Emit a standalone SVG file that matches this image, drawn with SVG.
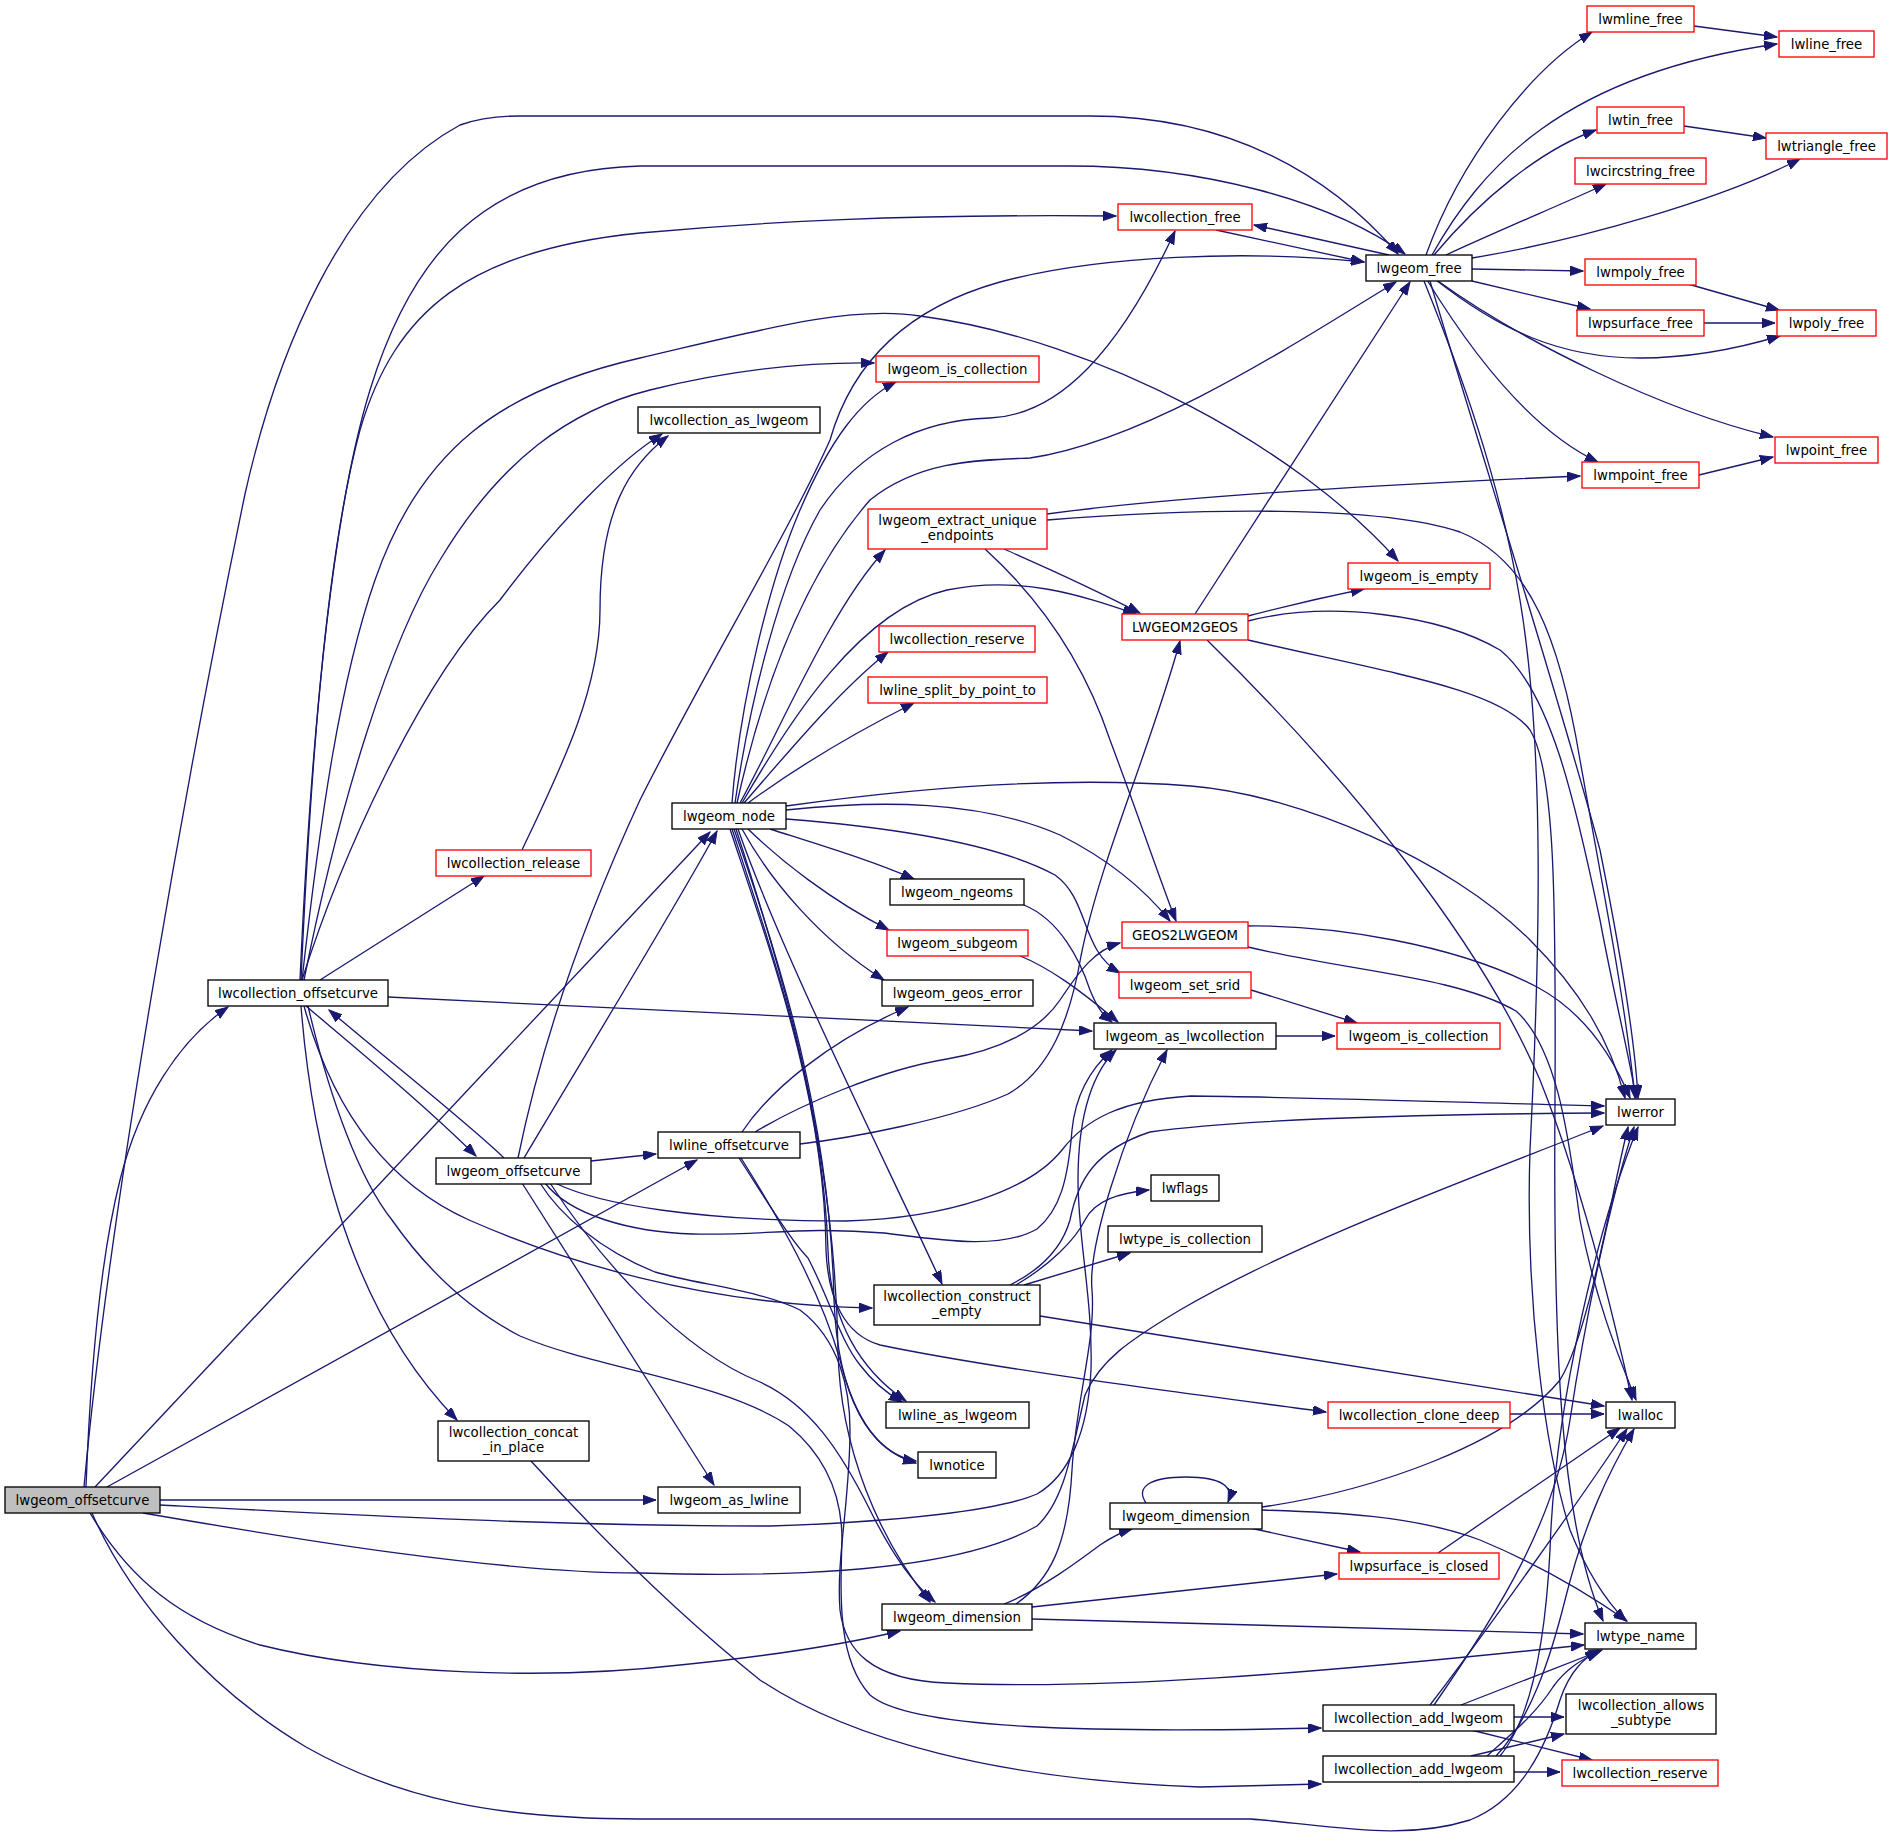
<svg xmlns="http://www.w3.org/2000/svg" width="1892" height="1846" viewBox="0 0 1892 1846">
<style>
.n rect{fill:#fff;stroke:#000;stroke-width:1.33}
.r rect{fill:#fff;stroke:#ff0000;stroke-width:1.33}
.g rect{fill:#bfbfbf;stroke:#000;stroke-width:1.33}
text{font-family:"DejaVu Sans","Liberation Sans",sans-serif;font-size:13.3px;text-anchor:middle;fill:#000}
.e path{fill:none;stroke:#191970;stroke-width:1.33;marker-end:url(#a)}
</style>
<defs>
<marker id="a" markerUnits="userSpaceOnUse" viewBox="0 0 14 10" markerWidth="14" markerHeight="10" refX="13" refY="4.7" orient="auto">
<path d="M0,0 L13,4.7 L0,9.4 z" fill="#191970" stroke="#191970" stroke-width="1"/>
</marker>
</defs>
<rect width="1892" height="1846" fill="#fff"/>
<g id="connectors" class="e">
<path d="M84,1487 C110,1200 190,760 245,494 C275,360 340,190 460,125 C480,118 500,116 520,116 L1090,116 C1230,116 1330,175 1398,254"/>
<path d="M86,1487 C90,1380 100,1260 120,1180 C140,1100 180,1040 228,1007"/>
<path d="M95,1487 L710,832"/>
<path d="M107,1487 L697,1160"/>
<path d="M160,1500 L656,1500"/>
<path d="M143,1513 C300,1540 500,1573 640,1573 C800,1578 960,1570 1037,1526 C1065,1500 1072,1450 1085,1395 C1100,1360 1130,1340 1180,1310 C1300,1240 1480,1175 1603,1126"/>
<path d="M160,1505 C350,1515 550,1526 770,1526 C900,1522 1000,1510 1037,1494 C1070,1475 1088,1430 1091,1370 C1093,1300 1078,1240 1078,1180 C1078,1110 1095,1070 1116,1050"/>
<path d="M90,1513 C130,1580 180,1620 260,1645 C380,1675 550,1680 680,1665 C780,1655 850,1643 900,1631"/>
<path d="M92,1513 C130,1600 210,1690 306,1747 C400,1800 500,1819 640,1819 L1250,1819 C1330,1825 1400,1842 1470,1820 C1520,1800 1545,1750 1560,1700 C1570,1670 1585,1658 1598,1650"/>
<path d="M300,980 C310,760 330,520 370,390 C410,260 480,170 640,166 L1069,166 C1200,166 1330,200 1405,254"/>
<path d="M301,980 C310,780 325,560 360,430 C395,310 470,250 640,233 C760,222 900,214 1116,216"/>
<path d="M302,980 C320,820 340,680 375,580 C420,450 500,390 640,358 C760,330 850,305 920,316 C1100,340 1300,450 1398,561"/>
<path d="M304,980 C340,800 390,640 440,560 C500,460 570,410 650,390 C730,370 800,362 874,363"/>
<path d="M302,980 C340,860 420,680 500,600 C560,520 620,460 662,434"/>
<path d="M320,980 L484,876"/>
<path d="M306,1006 C340,1035 420,1100 476,1156"/>
<path d="M388,997 L1092,1031"/>
<path d="M304,1006 C330,1100 380,1180 469,1220 C560,1260 700,1305 872,1308"/>
<path d="M301,1006 C310,1120 340,1300 457,1420"/>
<path d="M308,1006 C330,1100 360,1180 392,1220 C420,1260 460,1305 520,1336 C600,1370 720,1380 789,1426 C830,1460 842,1500 842,1540 C840,1600 838,1660 870,1695 C910,1730 1100,1733 1321,1728"/>
<path d="M504,1158 C470,1125 400,1070 329,1010"/>
<path d="M591,1161 L656,1154"/>
<path d="M524,1158 C570,1080 680,900 717,831"/>
<path d="M518,1158 C540,1050 580,930 640,800 C700,680 790,530 830,440 C850,370 900,310 1000,282 C1100,255 1250,250 1364,262"/>
<path d="M522,1183 L714,1485"/>
<path d="M555,1183 C600,1205 700,1221 846,1221 C950,1218 1030,1190 1062,1150 C1085,1120 1120,1100 1191,1096 C1300,1097 1480,1103 1604,1106"/>
<path d="M545,1183 C570,1215 630,1232 693,1234 C760,1236 800,1226 884,1233 C940,1240 1000,1250 1037,1229 C1060,1210 1068,1180 1072,1130 C1076,1090 1095,1065 1112,1050"/>
<path d="M540,1183 C560,1215 600,1250 655,1272 C700,1285 760,1290 800,1310 C840,1340 850,1390 850,1430 C850,1500 836,1560 840,1610 C845,1650 870,1680 947,1683 C1100,1690 1300,1675 1584,1645"/>
<path d="M550,1183 C600,1260 680,1350 760,1382 C810,1405 840,1450 870,1510 C895,1560 915,1585 935,1602"/>
<path d="M732,803 C740,700 770,580 800,510 C830,440 860,400 896,382"/>
<path d="M735,803 C750,700 780,580 820,510 C860,450 920,420 990,418 C1060,415 1120,350 1175,231"/>
<path d="M737,803 C760,700 800,580 870,500 C920,460 980,460 1030,458 C1150,440 1300,340 1396,282"/>
<path d="M740,803 C780,730 830,610 885,550"/>
<path d="M742,803 C790,720 860,610 947,590 C1020,575 1080,595 1136,614"/>
<path d="M744,803 C790,750 840,690 888,652"/>
<path d="M748,803 C800,765 860,730 914,703"/>
<path d="M786,806 C900,790 1050,775 1191,786 C1300,795 1450,860 1530,940 C1580,990 1610,1040 1625,1098"/>
<path d="M786,810 C880,800 980,800 1060,835 C1110,860 1145,890 1170,921"/>
<path d="M786,819 C900,828 1000,845 1055,875 C1090,900 1080,950 1120,973"/>
<path d="M770,829 C820,845 870,860 914,879"/>
<path d="M748,829 C780,860 830,900 889,930"/>
<path d="M742,829 C770,880 820,940 884,980"/>
<path d="M738,829 C780,950 880,1150 942,1284"/>
<path d="M730,829 C770,950 825,1100 826,1250 C828,1300 845,1335 880,1345 C1000,1370 1200,1395 1326,1412"/>
<path d="M732,829 C775,960 823,1100 828,1250 C830,1320 860,1370 906,1401"/>
<path d="M734,829 C780,960 830,1120 834,1300 C838,1400 870,1450 916,1463"/>
<path d="M736,829 C785,980 835,1150 838,1350 C840,1450 880,1540 930,1602"/>
<path d="M742,1132 C770,1090 830,1040 908,1007"/>
<path d="M800,1144 C850,1138 950,1120 1008,1094 C1050,1070 1070,1020 1081,956 C1100,860 1150,750 1180,641"/>
<path d="M755,1132 C800,1105 880,1070 947,1059 C1000,1050 1040,1030 1060,1000 C1080,970 1095,950 1120,943"/>
<path d="M739,1158 C760,1190 790,1240 808,1258 C830,1300 840,1340 860,1365 C875,1385 890,1395 902,1402"/>
<path d="M741,1158 C780,1220 820,1290 840,1360 C855,1420 880,1455 916,1461"/>
<path d="M522,850 C560,770 600,690 600,610 C600,510 630,465 668,436"/>
<path d="M531,1461 C580,1515 660,1600 760,1680 C850,1740 1000,1780 1200,1787 L1321,1784"/>
<path d="M1047,514 C1150,500 1300,488 1580,476"/>
<path d="M1047,520 C1200,508 1380,505 1460,532 C1530,560 1560,640 1580,760 C1605,900 1625,1000 1635,1098"/>
<path d="M1004,549 C1040,565 1080,582 1140,613"/>
<path d="M985,549 C1030,590 1080,650 1110,740 C1140,820 1160,880 1176,921"/>
<path d="M1195,614 L1410,282"/>
<path d="M1248,616 C1290,605 1330,596 1364,589"/>
<path d="M1248,621 C1330,600 1440,615 1500,650 C1550,690 1575,800 1600,920 C1615,1000 1628,1050 1636,1098"/>
<path d="M1207,640 C1350,780 1480,940 1540,1080 C1580,1180 1610,1300 1632,1400"/>
<path d="M1248,640 C1400,675 1500,690 1530,730 C1555,770 1556,900 1555,1100 C1553,1350 1560,1520 1603,1621"/>
<path d="M1248,926 C1332,925 1455,944 1537,987 C1580,1010 1610,1050 1630,1098"/>
<path d="M1248,947 C1352,972 1455,976 1516,1011 C1560,1050 1570,1150 1580,1220 C1595,1300 1620,1360 1636,1400"/>
<path d="M1426,255 C1460,160 1530,70 1592,32"/>
<path d="M1432,255 C1480,170 1560,75 1777,44"/>
<path d="M1434,255 C1480,200 1540,150 1596,130"/>
<path d="M1446,255 C1500,230 1560,205 1606,184"/>
<path d="M1472,258 C1580,240 1720,200 1800,159"/>
<path d="M1389,255 L1254,225"/>
<path d="M1472,269 L1583,271"/>
<path d="M1472,281 L1590,309"/>
<path d="M1436,280 C1500,330 1560,358 1640,358 C1700,358 1750,345 1780,336"/>
<path d="M1438,281 C1520,340 1660,410 1773,437"/>
<path d="M1427,280 C1470,350 1530,430 1598,462"/>
<path d="M1430,281 C1480,450 1560,700 1600,850 C1620,950 1635,1040 1638,1098"/>
<path d="M1424,281 C1460,370 1500,480 1520,600 C1545,750 1540,950 1530,1150 C1525,1300 1545,1450 1570,1530 C1590,1580 1610,1605 1626,1621"/>
<path d="M1216,230 L1364,262"/>
<path d="M1694,26 L1777,37"/>
<path d="M1684,126 L1766,138"/>
<path d="M1688,284 L1779,310"/>
<path d="M1704,323 L1775,323"/>
<path d="M1699,475 L1773,457"/>
<path d="M1276,1036 L1335,1036"/>
<path d="M1251,990 L1357,1023"/>
<path d="M1024,905 C1060,920 1080,960 1090,990 C1098,1010 1105,1017 1112,1022"/>
<path d="M1018,955 C1050,968 1080,990 1118,1022"/>
<path d="M1016,1285 C1050,1265 1075,1240 1085,1220 C1095,1200 1120,1193 1149,1190"/>
<path d="M1010,1285 C1040,1270 1062,1248 1070,1220 C1078,1180 1095,1150 1150,1132 C1250,1118 1450,1114 1604,1113"/>
<path d="M1024,1285 L1130,1253"/>
<path d="M1040,1316 L1604,1406"/>
<path d="M1004,1604 C1040,1590 1080,1560 1100,1545 C1115,1535 1125,1531 1132,1529"/>
<path d="M1016,1604 C1050,1580 1068,1545 1072,1470 C1076,1400 1096,1340 1092,1290 C1088,1250 1120,1140 1167,1050"/>
<path d="M1032,1607 L1337,1574"/>
<path d="M1032,1619 L1583,1634"/>
<path d="M1146,1503 C1135,1487 1150,1477 1186,1477 C1222,1477 1234,1487 1228,1502"/>
<path d="M1250,1528 L1360,1552"/>
<path d="M1262,1510 C1330,1512 1414,1515 1480,1540 C1540,1565 1590,1595 1627,1621"/>
<path d="M1262,1507 C1373,1491 1508,1444 1560,1380 C1590,1330 1610,1200 1628,1127"/>
<path d="M1438,1553 L1620,1428"/>
<path d="M1510,1414 L1604,1414"/>
<path d="M1461,1705 L1602,1650"/>
<path d="M1514,1717 L1564,1717"/>
<path d="M1471,1730 L1592,1760"/>
<path d="M1430,1705 C1480,1640 1580,1500 1627,1429"/>
<path d="M1434,1705 C1500,1610 1555,1520 1570,1420 C1585,1320 1610,1200 1634,1127"/>
<path d="M1514,1772 L1560,1772"/>
<path d="M1471,1756 L1564,1734"/>
<path d="M1487,1756 C1510,1735 1535,1715 1553,1687 C1565,1670 1580,1660 1600,1651"/>
<path d="M1496,1756 C1530,1720 1550,1660 1565,1600 C1585,1520 1610,1470 1634,1429"/>
<path d="M1500,1756 C1530,1720 1545,1650 1550,1550 C1555,1400 1600,1220 1638,1127"/>
</g>
<g id="n1" class="g"><rect x="5" y="1487" width="155" height="26"/><text x="82.5" y="1504.7">lwgeom_offsetcurve</text></g>
<g id="n2" class="n"><rect x="208" y="980" width="180" height="26"/><text x="298" y="997.7">lwcollection_offsetcurve</text></g>
<g id="n3" class="n"><rect x="1366" y="255" width="106" height="26"/><text x="1419" y="272.7">lwgeom_free</text></g>
<g id="n4" class="r"><rect x="1118" y="204" width="134" height="26"/><text x="1185" y="221.7">lwcollection_free</text></g>
<g id="n5" class="r"><rect x="876" y="356" width="163" height="26"/><text x="957.5" y="373.7">lwgeom_is_collection</text></g>
<g id="n6" class="n"><rect x="638" y="407" width="182" height="26"/><text x="729" y="424.7">lwcollection_as_lwgeom</text></g>
<g id="n7" class="r"><rect x="1348" y="563" width="142" height="26"/><text x="1419" y="580.7">lwgeom_is_empty</text></g>
<g id="n8" class="r"><rect x="436" y="850" width="155" height="26"/><text x="513.5" y="867.7">lwcollection_release</text></g>
<g id="n9" class="n"><rect x="436" y="1158" width="155" height="26"/><text x="513.5" y="1175.7">lwgeom_offsetcurve</text></g>
<g id="n10" class="n"><rect x="1094" y="1023" width="182" height="26"/><text x="1185" y="1040.7">lwgeom_as_lwcollection</text></g>
<g id="n11" class="n"><rect x="874" y="1285" width="166" height="40"/><text x="957" y="1301">lwcollection_construct</text><text x="957" y="1316">_empty</text></g>
<g id="n12" class="n"><rect x="438" y="1421" width="151" height="40"/><text x="513.5" y="1437">lwcollection_concat</text><text x="513.5" y="1452">_in_place</text></g>
<g id="n13" class="n"><rect x="1585" y="1623" width="111" height="26"/><text x="1640.5" y="1640.7">lwtype_name</text></g>
<g id="n14" class="n"><rect x="1323" y="1705" width="191" height="26"/><text x="1418.5" y="1722.7">lwcollection_add_lwgeom</text></g>
<g id="n15" class="n"><rect x="1323" y="1756" width="191" height="26"/><text x="1418.5" y="1773.7">lwcollection_add_lwgeom</text></g>
<g id="n16" class="n"><rect x="672" y="803" width="114" height="26"/><text x="729" y="820.7">lwgeom_node</text></g>
<g id="n17" class="n"><rect x="658" y="1132" width="142" height="26"/><text x="729" y="1149.7">lwline_offsetcurve</text></g>
<g id="n18" class="n"><rect x="658" y="1487" width="142" height="26"/><text x="729" y="1504.7">lwgeom_as_lwline</text></g>
<g id="n19" class="n"><rect x="1606" y="1099" width="69" height="26"/><text x="1640.5" y="1116.7">lwerror</text></g>
<g id="n20" class="n"><rect x="882" y="1604" width="150" height="26"/><text x="957" y="1621.7">lwgeom_dimension</text></g>
<g id="n21" class="n"><rect x="1110" y="1503" width="152" height="26"/><text x="1186" y="1520.7">lwgeom_dimension</text></g>
<g id="n22" class="r"><rect x="1339" y="1553" width="160" height="26"/><text x="1419" y="1570.7">lwpsurface_is_closed</text></g>
<g id="n23" class="n"><rect x="1606" y="1402" width="69" height="26"/><text x="1640.5" y="1419.7">lwalloc</text></g>
<g id="n24" class="r"><rect x="1328" y="1402" width="182" height="26"/><text x="1419" y="1419.7">lwcollection_clone_deep</text></g>
<g id="n25" class="n"><rect x="1566" y="1694" width="150" height="40"/><text x="1641" y="1710">lwcollection_allows</text><text x="1641" y="1725">_subtype</text></g>
<g id="n26" class="r"><rect x="1562" y="1760" width="156" height="26"/><text x="1640" y="1777.7">lwcollection_reserve</text></g>
<g id="n27" class="r"><rect x="868" y="509" width="179" height="40"/><text x="957.5" y="525">lwgeom_extract_unique</text><text x="957.5" y="540">_endpoints</text></g>
<g id="n28" class="r"><rect x="1122" y="614" width="126" height="26"/><text x="1185" y="631.7">LWGEOM2GEOS</text></g>
<g id="n29" class="r"><rect x="879" y="626" width="156" height="26"/><text x="957" y="643.7">lwcollection_reserve</text></g>
<g id="n30" class="r"><rect x="868" y="677" width="179" height="26"/><text x="957.5" y="694.7">lwline_split_by_point_to</text></g>
<g id="n31" class="n"><rect x="890" y="879" width="134" height="26"/><text x="957" y="896.7">lwgeom_ngeoms</text></g>
<g id="n32" class="r"><rect x="887" y="930" width="141" height="26"/><text x="957.5" y="947.7">lwgeom_subgeom</text></g>
<g id="n33" class="n"><rect x="882" y="980" width="151" height="26"/><text x="957.5" y="997.7">lwgeom_geos_error</text></g>
<g id="n34" class="r"><rect x="1122" y="922" width="126" height="26"/><text x="1185" y="939.7">GEOS2LWGEOM</text></g>
<g id="n35" class="r"><rect x="1119" y="972" width="132" height="26"/><text x="1185" y="989.7">lwgeom_set_srid</text></g>
<g id="n36" class="r"><rect x="1337" y="1023" width="163" height="26"/><text x="1418.5" y="1040.7">lwgeom_is_collection</text></g>
<g id="n37" class="n"><rect x="1151" y="1175" width="68" height="26"/><text x="1185" y="1192.7">lwflags</text></g>
<g id="n38" class="n"><rect x="1108" y="1226" width="154" height="26"/><text x="1185" y="1243.7">lwtype_is_collection</text></g>
<g id="n39" class="n"><rect x="886" y="1402" width="143" height="26"/><text x="957.5" y="1419.7">lwline_as_lwgeom</text></g>
<g id="n40" class="n"><rect x="918" y="1452" width="78" height="26"/><text x="957" y="1469.7">lwnotice</text></g>
<g id="n41" class="r"><rect x="1587" y="6" width="107" height="26"/><text x="1640.5" y="23.7">lwmline_free</text></g>
<g id="n42" class="r"><rect x="1779" y="31" width="95" height="26"/><text x="1826.5" y="48.7">lwline_free</text></g>
<g id="n43" class="r"><rect x="1597" y="107" width="87" height="26"/><text x="1640.5" y="124.7">lwtin_free</text></g>
<g id="n44" class="r"><rect x="1766" y="133" width="121" height="26"/><text x="1826.5" y="150.7">lwtriangle_free</text></g>
<g id="n45" class="r"><rect x="1575" y="158" width="131" height="26"/><text x="1640.5" y="175.7">lwcircstring_free</text></g>
<g id="n46" class="r"><rect x="1585" y="259" width="111" height="26"/><text x="1640.5" y="276.7">lwmpoly_free</text></g>
<g id="n47" class="r"><rect x="1577" y="310" width="127" height="26"/><text x="1640.5" y="327.7">lwpsurface_free</text></g>
<g id="n48" class="r"><rect x="1777" y="310" width="99" height="26"/><text x="1826.5" y="327.7">lwpoly_free</text></g>
<g id="n49" class="r"><rect x="1775" y="437" width="103" height="26"/><text x="1826.5" y="454.7">lwpoint_free</text></g>
<g id="n50" class="r"><rect x="1582" y="462" width="117" height="26"/><text x="1640.5" y="479.7">lwmpoint_free</text></g>
</svg>
